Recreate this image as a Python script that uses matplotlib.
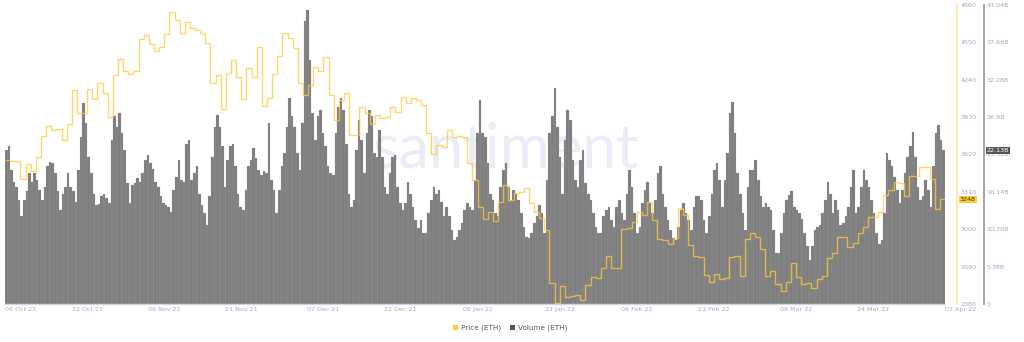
import matplotlib
matplotlib.use("Agg")
import matplotlib.pyplot as plt
import matplotlib.transforms as mtransforms
from matplotlib.patches import Patch
import numpy as np

# ---------------- data ----------------
# daily ETH price (USD), 06 Oct 2021 .. 06 Apr 2022
price = [3574, 3563, 3570, 3417, 3541, 3483, 3600, 3773, 3856, 3823, 3830, 3740, 3873, 4155, 3964,
         3964, 4163, 4080, 4213, 4130, 3931, 4279, 4412, 4313, 4288, 4313, 4578, 4611, 4537, 4479,
         4512, 4620, 4802, 4736, 4628, 4719, 4670, 4650, 4628, 4545, 4213, 4279, 3997, 4296, 4404,
         4263, 4080, 4338, 4263, 4512, 4023, 4089, 4288, 4437, 4628, 4587, 4503, 4213, 4113, 4196,
         4346,
         4313, 4429, 4113, 3906, 4072, 4130, 3782, 3782, 4014, 3964, 3873, 3947, 3923, 3930, 4014,
         3972, 4097, 4047, 4089, 4072, 4031, 3798, 3624, 3699, 3682, 3823, 3765, 3773, 3765, 3549,
         3408, 3185, 3085, 3143, 3068, 3226, 3367, 3243, 3301, 3310, 3342, 3218, 3143, 3093, 2994,
         2554, 2388, 2529, 2438, 2446, 2455, 2413, 2537, 2604, 2596, 2679, 2778, 2679, 2679, 3002,
         3010, 3060, 3143, 3118, 3226, 3077, 2919, 2910, 2878, 2927, 3176, 3118, 2869, 2778, 2770,
         2620, 2562, 2629, 2587, 2596, 2770, 2778, 2612, 2919, 2969, 2936, 2836, 2612, 2654, 2546,
         2488, 2562, 2720, 2604, 2546, 2555, 2513, 2587, 2612, 2761, 2803, 2936, 2936, 2853, 2886,
         2969, 3019, 3102, 3102, 3143, 3284, 3325, 3392, 3384, 3276, 3442, 3442, 3516, 3516, 3417,
         3168, 3248]

# half-day ETH volume (billions)
volume = [22.2, 22.7, 19.3, 17.6, 16.9, 15.0, 12.7, 15.0, 16.2, 18.8, 17.6, 18.8, 17.9, 16.4, 15.0,
          16.9, 19.8, 20.5, 20.3, 18.8, 16.2, 13.5, 15.9, 16.9, 18.8, 16.9, 16.2, 14.7, 19.3, 24.1,
          28.9, 26.0, 21.2, 18.8, 15.9, 14.3, 14.4, 15.5, 15.9, 15.2, 14.5, 23.6, 27.0, 25.5, 27.5,
          24.6, 22.2, 17.4, 14.5, 17.1, 17.4, 18.1, 17.6, 18.8, 20.7, 21.5, 20.3, 19.5, 17.6, 16.9,
          15.5, 14.5, 14.3, 14.0, 13.3, 16.4, 18.3, 20.7, 17.9, 17.6, 23.1, 23.6, 17.9, 18.8, 19.8,
          15.9, 14.3, 13.1, 11.4, 15.5, 21.2, 25.5, 27.2, 25.5, 22.7, 16.9, 20.7, 22.7, 23.1, 19.8,
          15.9, 14.0, 13.5, 16.4, 19.8, 20.7, 22.4, 21.0, 19.3, 18.6, 19.1, 18.8, 26.0, 17.9, 16.4,
          13.1, 16.4, 19.8, 21.7, 25.5, 29.6, 27.0, 25.5, 21.7, 19.3, 26.0, 40.7, 42.3, 35.1, 27.5,
          23.6, 27.0, 27.9, 24.6, 22.7, 19.8, 18.8, 18.6, 24.6, 28.4, 29.6, 27.9, 23.1, 15.9, 14.0,
          15.0, 22.2, 26.5, 23.6, 18.8, 24.6, 27.9, 27.0, 21.7, 21.2, 25.1, 21.2, 16.9, 15.9, 18.8,
          21.2, 21.5, 16.9, 14.5, 13.5, 14.5, 17.6, 15.9, 14.0, 12.1, 10.9, 12.1, 10.2, 10.2, 13.1,
          15.0, 16.9, 15.9, 16.4, 14.7, 12.6, 14.0, 12.6, 10.7, 9.2, 9.7, 10.7, 11.6, 13.5, 14.5,
          14.0, 13.5, 17.9, 24.6, 29.4, 24.6, 24.1, 20.3, 15.9, 15.0, 13.1, 12.6, 16.9, 19.3, 20.3,
          16.9, 15.0, 16.4, 15.9, 15.0, 13.1, 11.1, 9.7, 9.5, 10.2, 11.6, 12.6, 14.3, 13.1, 10.2,
          17.9, 24.6, 27.0, 31.1, 25.5, 21.2, 15.9, 23.6, 27.9, 26.5, 20.7, 17.9, 16.9, 20.7, 22.2,
          17.4, 15.9, 15.0, 13.1, 11.1, 10.2, 10.2, 12.6, 13.5, 14.0, 12.1, 11.1, 14.0, 15.0, 13.1,
          12.1, 15.9, 19.3, 16.9, 13.1, 10.2, 11.1, 14.5, 16.4, 17.6, 14.5, 13.1, 15.0, 18.8, 19.8,
          15.9, 14.0, 12.1, 10.7, 9.5, 9.2, 11.1, 13.5, 14.5, 13.1, 12.1, 10.7, 14.0, 15.5, 15.5,
          15.0, 12.1, 10.2, 12.6, 15.9, 19.3, 20.3, 17.9, 14.0, 17.9, 21.7, 27.5, 29.1, 24.6, 18.8,
          15.9, 13.1, 10.7, 16.9, 19.3, 19.3, 20.7, 17.9, 15.5, 14.0, 14.5, 14.0, 13.5, 10.7, 7.3,
          7.3, 10.2, 13.1, 15.0, 15.7, 16.2, 14.0, 13.5, 13.1, 12.3, 10.2, 8.3, 6.4, 8.3, 10.7,
          11.1, 11.4, 13.1, 15.0, 17.6, 15.9, 13.1, 15.0, 13.5, 11.4, 11.6, 12.6, 14.0, 16.9, 19.3,
          13.1, 14.0, 16.9, 19.3, 17.9, 16.9, 15.0, 13.1, 10.2, 8.7, 9.2, 13.1, 21.7, 20.7, 19.8,
          18.3, 16.4, 14.5, 16.4, 18.8, 21.2, 22.7, 24.8, 21.2, 16.9, 15.0, 15.5, 17.9, 16.4, 14.0,
          19.8, 24.6, 25.8, 23.6, 22.1]

date_tick_days = [0, 16, 31, 46, 62, 77, 92, 108, 123, 138, 154, 169, 183]
date_tick_labels = ["06 Oct 21", "22 Oct 21", "06 Nov 21", "21 Nov 21", "07 Dec 21", "22 Dec 21",
                    "06 Jan 22", "22 Jan 22", "06 Feb 22", "21 Feb 22", "09 Mar 22", "24 Mar 22",
                    "07 Apr 22"]
price_ticks = [2380, 2690, 3000, 3310, 3620, 3930, 4240, 4550, 4860]
volume_ticks = [0, 5.38, 10.76, 16.14, 21.52, 26.9, 32.28, 37.66, 43.04]
volume_tick_labels = ["0", "5.38B", "10.76B", "16.14B", "21.52B", "26.9B", "32.28B", "37.66B", "43.04B"]
last_price_label = "3248"
last_volume_label = "22.13B"
last_volume_value = 22.13

# ---------------- style ----------------
YELLOW = "#ffc83d"
BAR = "#7d7d7d"
TICKC = "#a3a9c4"
FS = 4.6

fig = plt.figure(figsize=(10.24, 3.42), dpi=100)
ax = fig.add_axes([5 / 1024, 38 / 342, 940 / 1024, 299 / 342])

n_days = len(price)
step = n_days / len(volume)
vx = (np.arange(len(volume)) + 0.5) * step
ax.bar(vx, volume, width=step, color=BAR, edgecolor="#a8a8a8", linewidth=0.15, zorder=2)
ax.set_xlim(0, n_days)
ax.set_ylim(0, volume_ticks[-1])

# watermark
ax.text(0.533, 0.455, "santiment", transform=ax.transAxes, fontsize=44, color="#eaecf6",
        ha="center", va="baseline", zorder=1, family=["Lato", "DejaVu Sans"], fontweight="normal")

ax2 = ax.twinx()
ax2.stairs(price, np.arange(n_days + 1), baseline=None, color=YELLOW, alpha=0.75, linewidth=1.0, zorder=3)
ax2.set_ylim(price_ticks[0], price_ticks[-1])

# spines
for s in ["top", "left"]:
    ax.spines[s].set_visible(False)
ax.spines["bottom"].set_color("#d3d5de")
ax.spines["bottom"].set_linewidth(1.0)
ax.spines["right"].set_position(("outward", 28))
ax.spines["right"].set_color("#9c9c9c")
ax.spines["right"].set_linewidth(1.3)
for s in ["top", "left", "bottom"]:
    ax2.spines[s].set_visible(False)
ax2.spines["right"].set_position(("outward", 8.6))
ax2.spines["right"].set_color("#ffe6a0")
ax2.spines["right"].set_linewidth(1.3)

ax.yaxis.set_ticks_position("right")
ax.set_yticks(volume_ticks)
ax.set_yticklabels(volume_tick_labels)
ax.tick_params(axis="y", length=0, pad=2, labelsize=FS, labelcolor=TICKC)
ax2.set_yticks(price_ticks)
ax2.set_yticklabels([str(p) for p in price_ticks])
ax2.tick_params(axis="y", length=0, pad=2.5, labelsize=FS, labelcolor=TICKC)

ax.set_xticks(date_tick_days)
ax.set_xticklabels(date_tick_labels)
ax.tick_params(axis="x", length=0, pad=2, labelsize=FS, labelcolor=TICKC)
xl = ax.get_xticklabels()
xl[0].set_ha("left")
xl[-1].set_ha("left")

# last value badges
tr2 = mtransforms.blended_transform_factory(ax2.transAxes, ax2.transData)
ax2.text(1 + 15 / 940, price[-1], last_price_label, transform=tr2, fontsize=FS, color="#4a3a00",
         ha="left", va="center", clip_on=False, zorder=5,
         bbox=dict(facecolor=YELLOW, edgecolor="none", pad=0.7))
tr1 = mtransforms.blended_transform_factory(ax.transAxes, ax.transData)
ax.text(1 + 42 / 940, last_volume_value, last_volume_label, transform=tr1, fontsize=FS, color="white",
        ha="left", va="center", clip_on=False, zorder=5,
        bbox=dict(facecolor="#555555", edgecolor="none", pad=0.7))

# legend
handles = [Patch(facecolor=YELLOW, edgecolor="none", label="Price (ETH)"),
           Patch(facecolor="#555555", edgecolor="none", label="Volume (ETH)")]
fig.legend(handles=handles, loc="center", bbox_to_anchor=(510 / 1024, 1 - 328 / 342), ncol=2,
           frameon=False, fontsize=5.2, handlelength=0.7, handleheight=0.7, handletextpad=0.4,
           columnspacing=1.3, labelcolor="#555555")

fig.savefig("out.png", dpi=100, facecolor="white")
